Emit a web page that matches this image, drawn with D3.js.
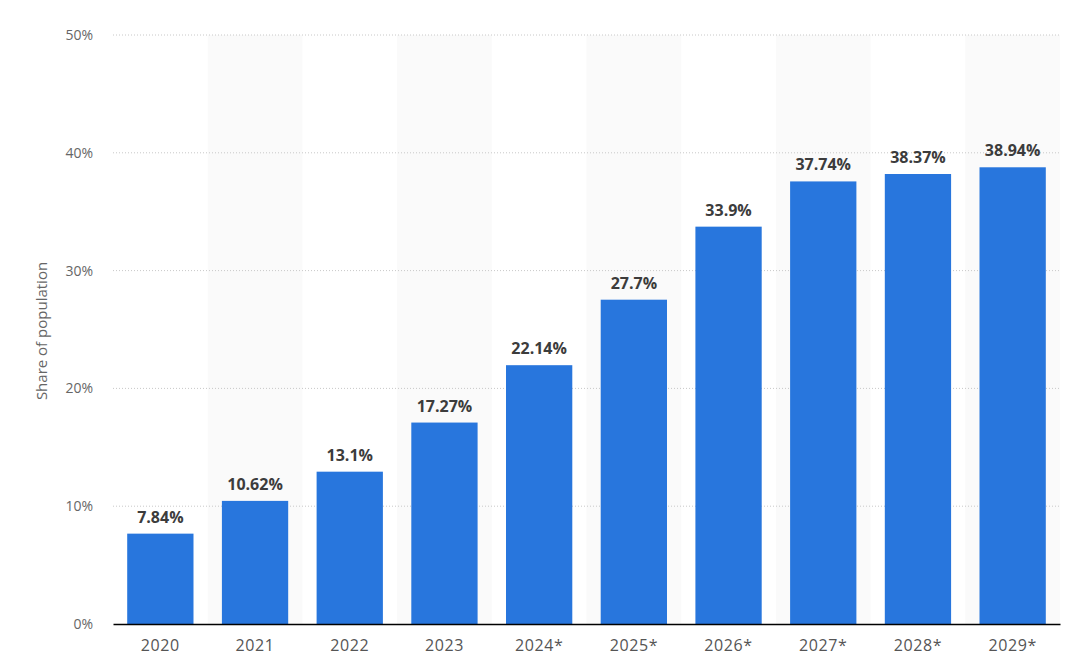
<!DOCTYPE html>
<html>
<head>
<meta charset="utf-8">
<script src="https://cdn.jsdelivr.net/npm/d3@7"></script>
<style>
  body { margin: 0; background: #fff; }
  svg { display: block; font-family: "Open Sans", "Noto Sans", sans-serif; }
</style>
</head>
<body>
<div id="chart"></div>
<script>
// Datos del gráfico
const years = ["2020", "2021", "2022", "2023", "2024*", "2025*", "2026*", "2027*", "2028*", "2029*"];
const shares = [7.84, 10.62, 13.1, 17.27, 22.14, 27.7, 33.9, 37.74, 38.37, 38.94];
const valueLabels = ["7.84%", "10.62%", "13.1%", "17.27%", "22.14%", "27.7%", "33.9%", "37.74%", "38.37%", "38.94%"];
const yTicks = [0, 10, 20, 30, 40, 50];

const width = 1068, height = 667;
const margin = { top: 35, right: 8, bottom: 43, left: 113 };
const innerW = width - margin.left - margin.right;
const innerH = height - margin.top - margin.bottom;
const barTopInset = 2;
const fontFamily = '"Open Sans", "Noto Sans", sans-serif';

const svg = d3.select("#chart").append("svg")
  .attr("width", width)
  .attr("height", height);

const g = svg.append("g")
  .attr("transform", `translate(${margin.left},${margin.top})`);

const x = d3.scaleBand().domain(years).range([0, innerW]).paddingInner(0.3).paddingOuter(0.15);
const xBand = d3.scaleBand().domain(years).range([0, innerW]).padding(0);
const y = d3.scaleLinear().domain([0, 50]).range([innerH, 0]);

// Bandas alternas de fondo
g.selectAll(".band")
  .data(years.filter((_, i) => i % 2 === 1))
  .enter().append("rect")
  .attr("x", d => xBand(d))
  .attr("y", 0)
  .attr("width", xBand.bandwidth())
  .attr("height", innerH)
  .attr("fill", "#fafafa");

// Líneas de cuadrícula
g.selectAll(".grid")
  .data(yTicks.filter(t => t > 0))
  .enter().append("line")
  .attr("x1", 0).attr("x2", innerW)
  .attr("y1", d => y(d)).attr("y2", d => y(d))
  .attr("stroke", "#c8c8c8")
  .attr("stroke-width", 1)
  .attr("stroke-dasharray", "1,2");

// Eje Y
const yAxis = g.append("g")
  .call(d3.axisLeft(y).tickValues(yTicks).tickFormat(d => d + "%").tickSize(0).tickPadding(20))
  .attr("font-family", fontFamily);
yAxis.select(".domain").remove();
yAxis.selectAll("text")
  .attr("fill", "#666")
  .style("font-size", "14px");

// Barras
g.selectAll(".bar")
  .data(shares)
  .enter().append("rect")
  .attr("x", (_, i) => x(years[i]))
  .attr("y", d => y(d) + barTopInset)
  .attr("width", x.bandwidth())
  .attr("height", d => innerH - y(d) - barTopInset)
  .attr("fill", "#2876dd");

// Etiquetas de valor
g.selectAll(".bar-label")
  .data(shares)
  .enter().append("text")
  .attr("x", (_, i) => x(years[i]) + x.bandwidth() / 2)
  .attr("y", d => y(d) - 9)
  .attr("text-anchor", "middle")
  .attr("fill", "#3c3c3c")
  .style("font-size", "16px")
  .style("font-weight", "bold")
  .text((_, i) => valueLabels[i]);

// Eje X
const xAxis = g.append("g")
  .attr("transform", `translate(0,${innerH})`)
  .call(d3.axisBottom(x).tickSize(0).tickPadding(16))
  .attr("font-family", fontFamily);
xAxis.select(".domain")
  .attr("stroke", "#000")
  .attr("stroke-width", 1.5);
xAxis.selectAll("text")
  .attr("fill", "#555")
  .style("font-size", "16px")
  .style("letter-spacing", "0.6px");

// Título del eje Y
svg.append("text")
  .attr("transform", "translate(47,331) rotate(-90)")
  .attr("text-anchor", "middle")
  .attr("fill", "#666")
  .style("font-size", "15px")
  .text("Share of population");
</script>
</body>
</html>
